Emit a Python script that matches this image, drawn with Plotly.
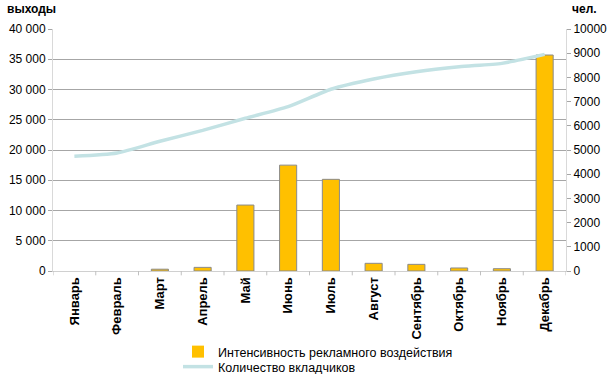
import plotly.graph_objects as go

months = ["Январь", "Февраль", "Март", "Апрель", "Май", "Июнь", "Июль",
          "Август", "Сентябрь", "Октябрь", "Ноябрь", "Декабрь"]
intensity = [0, 0, 300, 600, 10900, 17500, 15150, 1270, 1100, 500, 380, 35700]
depositors = [4740, 4876, 5360, 5810, 6310, 6790, 7510, 7935, 8235, 8440, 8580, 8950]

left_ticks = [0, 5000, 10000, 15000, 20000, 25000, 30000, 35000, 40000]
left_text = ["0", "5 000", "10 000", "15 000", "20 000", "25 000", "30 000", "35 000", "40 000"]
right_ticks = [0, 1000, 2000, 3000, 4000, 5000, 6000, 7000, 8000, 9000, 10000]
right_text = [str(v) for v in right_ticks]

bar_name = "Интенсивность рекламного воздействия"
line_name = "Количество вкладчиков"
left_title = "выходы"
right_title = "чел."

FONT = "Liberation Sans, Arial, sans-serif"

fig = go.Figure()
fig.add_trace(go.Bar(
    x=months, y=intensity, name=bar_name,
    marker=dict(color="#FFC000",
                line=dict(color="#8a8a8a", width=[0 if v == 0 else 1 for v in intensity])),
    yaxis="y", legend="legend",
))
fig.add_trace(go.Scatter(
    x=months, y=depositors, name=line_name, mode="lines",
    line=dict(color="#C3E2E4", width=3.5, shape="spline", smoothing=0.6),
    yaxis="y2", legend="legend2",
))

PH = 242.0
PW = 513.0
leg_common = dict(orientation="v", xanchor="left", yanchor="top",
                  font=dict(size=12.5, family=FONT), tracegroupgap=0,
                  itemwidth=30, bgcolor="rgba(0,0,0,0)")

fig.update_layout(
    width=613, height=374,
    margin=dict(l=53, r=47, t=29, b=103, autoexpand=False),
    paper_bgcolor="white", plot_bgcolor="white",
    font=dict(family=FONT, size=12, color="black"),
    bargap=0.6,
    showlegend=True,
    legend=dict(x=(178 - 53) / PW, y=-(337 - 271) / PH, **leg_common),
    legend2=dict(x=(178 - 53) / PW, y=-(352 - 271) / PH, **leg_common),
    xaxis=dict(
        tickangle=-90, tickfont=dict(size=13, family=FONT, weight="bold"),
        showline=True, linecolor="#d0d0d0", linewidth=1,
        ticks="", showgrid=False, zeroline=False,
        range=[-0.5, 11.5],
    ),
    yaxis=dict(
        range=[0, 40000], tickvals=left_ticks, ticktext=left_text,
        showgrid=True, gridcolor="#a6a6a6", gridwidth=1,
        showline=True, linecolor="#d9d9d9", linewidth=1,
        ticks="outside", ticklen=4, tickcolor="#a6a6a6",
        zeroline=False, tickfont=dict(size=12),
    ),
    yaxis2=dict(
        range=[0, 10000], tickvals=right_ticks, ticktext=right_text,
        overlaying="y", side="right", showgrid=False,
        showline=True, linecolor="#d9d9d9", linewidth=1,
        ticks="outside", ticklen=4, tickcolor="#a6a6a6",
        zeroline=False, tickfont=dict(size=12),
    ),
)

# category boundary tick marks below the axis
for i in range(13):
    fig.add_shape(type="line", xref="x", yref="paper",
                  x0=i - 0.5, x1=i - 0.5, y0=0, y1=-0.018,
                  line=dict(color="#c0c0c0", width=1))

fig.add_annotation(text="<b>" + left_title + "</b>", xref="paper", yref="paper",
                   x=-48 / PW, y=1 + 20 / PH, xanchor="left", yanchor="middle",
                   showarrow=False, font=dict(size=12, family=FONT))
fig.add_annotation(text="<b>" + right_title + "</b>", xref="paper", yref="paper",
                   x=1 + 4 / PW, y=1 + 20 / PH, xanchor="left", yanchor="middle",
                   showarrow=False, font=dict(size=12, family=FONT))

fig.write_html("out.html", config={"displayModeBar": False},
               post_script="document.body.style.margin='0';")
